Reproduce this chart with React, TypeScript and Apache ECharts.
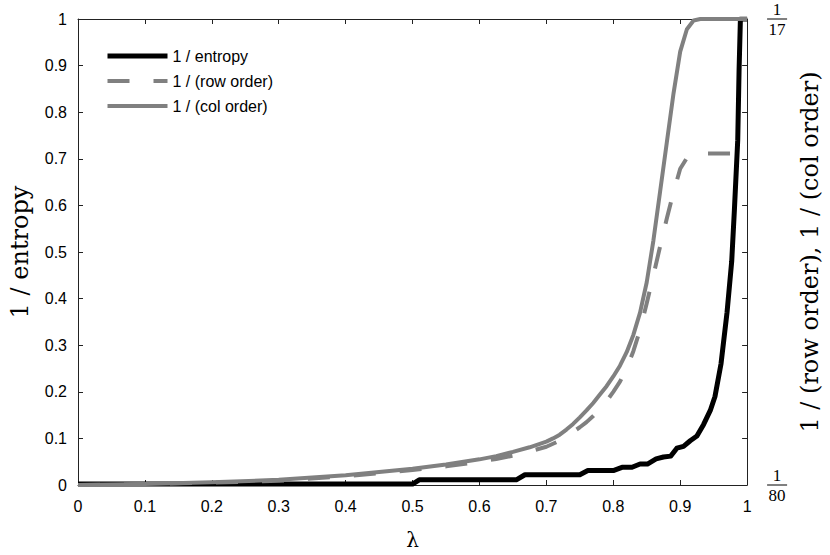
import React, { useEffect, useRef } from "react";
import * as echarts from "echarts";

// λ values and 1 / entropy (left axis)
const lambdaEntropy = [0, 0.5, 0.51, 0.655, 0.668, 0.75, 0.762, 0.8, 0.813, 0.828, 0.84, 0.851, 0.864, 0.875, 0.886, 0.895, 0.905, 0.915, 0.925, 0.935, 0.945, 0.952, 0.961, 0.97, 0.977, 0.981, 0.986, 0.988, 0.99, 1.0];
const invEntropy = [0.002, 0.002, 0.011, 0.011, 0.022, 0.022, 0.031, 0.031, 0.038, 0.038, 0.045, 0.045, 0.056, 0.06, 0.062, 0.079, 0.083, 0.095, 0.105, 0.13, 0.16, 0.19, 0.26, 0.37, 0.48, 0.59, 0.74, 0.89, 1.0, 1.0];

// λ values and 1 / (row order) (right axis)
const lambdaRow = [0, 0.1, 0.2, 0.3, 0.4, 0.5, 0.55, 0.6, 0.625, 0.65, 0.675, 0.7, 0.72, 0.73, 0.74, 0.75, 0.76, 0.77, 0.78, 0.79, 0.8, 0.81, 0.82, 0.83, 0.84, 0.85, 0.86, 0.87, 0.88, 0.89, 0.9, 0.91, 0.92, 1.0];
const invRowOrder = [0.0125, 0.01259, 0.01273, 0.01292, 0.01338, 0.01398, 0.01435, 0.01482, 0.01509, 0.01542, 0.01584, 0.0163, 0.0169, 0.01732, 0.01778, 0.01824, 0.01875, 0.01936, 0.02, 0.02084, 0.02176, 0.02278, 0.02408, 0.0258, 0.02793, 0.03057, 0.03335, 0.03622, 0.039, 0.04159, 0.04394, 0.045, 0.04545, 0.04545];

// λ values and 1 / (col order) (right axis)
const lambdaCol = [0, 0.1, 0.2, 0.3, 0.4, 0.5, 0.55, 0.6, 0.625, 0.65, 0.675, 0.7, 0.71, 0.72, 0.73, 0.74, 0.75, 0.76, 0.77, 0.78, 0.79, 0.8, 0.81, 0.82, 0.83, 0.84, 0.85, 0.86, 0.87, 0.88, 0.89, 0.9, 0.91, 0.92, 0.93, 1.0];
const invColOrder = [0.0125, 0.01259, 0.01278, 0.01301, 0.01347, 0.01412, 0.01454, 0.01505, 0.01537, 0.01579, 0.01625, 0.01681, 0.01713, 0.0175, 0.01801, 0.01857, 0.01922, 0.01991, 0.02065, 0.02149, 0.02232, 0.02329, 0.02436, 0.0257, 0.02742, 0.02964, 0.03265, 0.03682, 0.04168, 0.04655, 0.05141, 0.05558, 0.0578, 0.05868, 0.05882, 0.05882];

const rightAxisRange = [1 / 80, 1 / 17];
const seriesNames = ["1 / entropy", "1 / (row order)", "1 / (col order)"];

const zip = (xs: number[], ys: number[]) => xs.map((x, i) => [x, ys[i]]);

export default function App() {
  const ref = useRef<HTMLDivElement>(null);
  useEffect(() => {
    const chart = echarts.init(ref.current!, null, { renderer: "svg" });
    const [rMin, rMax] = rightAxisRange;
    const rightTicks = Array.from({ length: 11 }, (_, i) => rMin + ((rMax - rMin) * i) / 10);
    const axisLine = { show: true, onZero: false, lineStyle: { color: "#222", width: 1 } };
    const axisTick = { show: true, inside: true, length: 5, lineStyle: { color: "#222", width: 1 } };
    const serif = "DejaVu Serif";
    chart.setOption({
      animation: false,
      backgroundColor: "#fff",
      textStyle: { fontFamily: "Liberation Sans" },
      grid: { left: 73, right: 42, top: 19, bottom: 68 },
      legend: {
        orient: "vertical",
        left: 100,
        top: 43,
        itemWidth: 60,
        itemHeight: 14,
        itemGap: 9,
        data: seriesNames,
        itemStyle: { opacity: 0 },
        lineStyle: { width: "inherit" },
        textStyle: { fontSize: 16, color: "#000", fontFamily: "Liberation Sans" },
      },
      xAxis: [
        {
          type: "value",
          min: 0,
          max: 1,
          interval: 0.1,
          position: "bottom",
          name: "λ",
          nameLocation: "middle",
          nameGap: 45,
          nameTextStyle: { fontFamily: serif, fontSize: 20, color: "#000" },
          axisLine,
          axisTick,
          axisLabel: { fontSize: 16, color: "#000", margin: 13, fontFamily: "Liberation Sans" },
          splitLine: { show: false },
        },
        {
          type: "value",
          min: 0,
          max: 1,
          interval: 0.1,
          position: "top",
          axisLine,
          axisTick,
          axisLabel: { show: false },
          splitLine: { show: false },
        },
      ],
      yAxis: [
        {
          type: "value",
          min: 0,
          max: 1,
          interval: 0.1,
          position: "left",
          name: "1 / entropy",
          nameLocation: "middle",
          nameGap: 46,
          nameRotate: 90,
          nameTextStyle: { fontFamily: serif, fontSize: 24, color: "#000" },
          axisLine,
          axisTick,
          axisLabel: { fontSize: 16, color: "#000", margin: 11, fontFamily: "Liberation Sans" },
          splitLine: { show: false },
        },
        {
          type: "value",
          min: rMin,
          max: rMax,
          position: "right",
          name: "1 / (row order), 1 / (col order)",
          nameLocation: "middle",
          nameGap: 12,
          nameRotate: 90,
          nameTextStyle: { fontFamily: serif, fontSize: 24, color: "#000" },
          axisLine,
          axisTick: { ...axisTick, customValues: rightTicks },
          axisLabel: {
            customValues: rightAxisRange,
            margin: 30,
            align: "center",
            verticalAlign: "middle",
            formatter: (v: number) => `{n|1}\n{b| }\n{d|${Math.round(1 / v)}}`,
            rich: {
              n: { fontFamily: "Liberation Serif", fontSize: 17, lineHeight: 16, align: "center", color: "#000" },
              b: { width: 20, height: 1, lineHeight: 4, backgroundColor: "#000", fontSize: 1 },
              d: { fontFamily: "Liberation Serif", fontSize: 17, lineHeight: 16, align: "center", color: "#000" },
            },
          },
          splitLine: { show: false },
        },
      ],
      series: [
        {
          name: seriesNames[0],
          type: "line",
          xAxisIndex: 0,
          yAxisIndex: 0,
          data: zip(lambdaEntropy, invEntropy),
          showSymbol: false,
          symbol: "none",
          lineStyle: { color: "#000", width: 5, join: "round" },
          itemStyle: { color: "#000" },
          z: 2,
        },
        {
          name: seriesNames[1],
          type: "line",
          xAxisIndex: 0,
          yAxisIndex: 1,
          data: zip(lambdaRow, invRowOrder),
          showSymbol: false,
          symbol: "none",
          smooth: false,
          lineStyle: { color: "#808080", width: 4, type: [22, 24], cap: "butt", join: "round" },
          itemStyle: { color: "#808080" },
          z: 3,
        },
        {
          name: seriesNames[2],
          type: "line",
          xAxisIndex: 0,
          yAxisIndex: 1,
          data: zip(lambdaCol, invColOrder),
          showSymbol: false,
          symbol: "none",
          smooth: false,
          lineStyle: { color: "#808080", width: 4, join: "round" },
          itemStyle: { color: "#808080" },
          z: 3,
        },
      ],
    });
    return () => chart.dispose();
  }, []);
  return (
    <div
      ref={ref}
      style={{ position: "fixed", left: 0, top: 0, width: 830, height: 555, background: "#fff" }}
    />
  );
}
